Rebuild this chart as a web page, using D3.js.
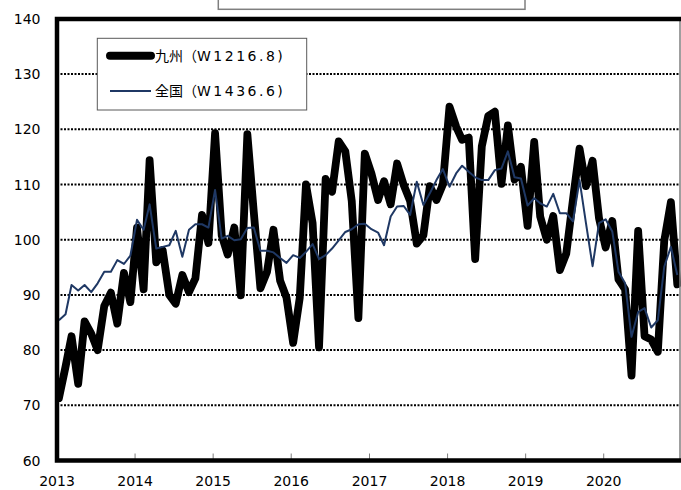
<!DOCTYPE html>
<html><head><meta charset="utf-8">
<script src="https://cdn.jsdelivr.net/npm/d3@7"></script>
<style>html,body{margin:0;padding:0;background:#fff;}svg{display:block;}</style>
</head><body>
<svg id="c" width="681" height="490"></svg>
<script>
const startYear = 2013;
const yearLabels = ["2013","2014","2015","2016","2017","2018","2019","2020"];
const yTicks = [60,70,80,90,100,110,120,130,140];
const seriesNames = ["九州（", "全国（"];
const seriesWeights = ["W1216.8)", "W1436.6)"];
const kyushu = [
 71.3,77.0,82.5,73.9,85.2,83.0,80.0,88.0,90.4,84.8,94.0,88.7,
 102.2,91.0,114.4,95.9,98.1,90.0,88.4,93.6,90.5,93.0,104.5,99.4,
 119.3,100.8,97.3,102.2,89.9,119.1,105.0,91.2,94.2,101.8,92.6,89.5,
 81.3,89.5,110.0,103.0,80.5,111.0,108.7,117.8,116.0,107.0,85.8,115.6,
 112.0,107.2,110.6,106.4,113.8,109.9,107.0,99.3,100.8,109.7,107.2,110.0,
 124.1,120.5,118.1,118.5,96.5,116.9,122.4,123.2,110.1,120.7,110.9,113.2,
 102.5,117.7,104.2,100.0,104.3,94.5,97.5,107.2,116.5,109.7,114.3,103.9,
 98.6,103.4,92.8,91.0,75.4,101.6,82.5,81.9,79.7,99.8,106.8,91.9
];
const zenkoku = [
 85.4,86.5,91.8,90.8,91.8,90.5,92.1,94.2,94.2,96.3,95.6,97.1,
 103.6,101.8,106.4,98.4,98.7,99.0,101.6,96.9,101.8,102.8,102.8,102.2,
 109.0,100.2,100.7,99.9,100.1,102.1,102.2,98.0,98.0,97.7,96.7,95.8,
 97.2,96.7,97.8,99.2,96.5,97.2,98.4,99.9,101.4,101.9,102.8,102.9,
 101.9,101.3,99.0,104.2,106.0,106.1,104.5,110.5,106.3,108.4,110.8,112.8,
 109.6,112.0,113.4,112.3,111.3,110.8,110.8,112.6,112.9,116.0,111.3,111.1,
 106.2,107.5,106.6,106.0,108.3,104.8,104.8,103.3,110.8,103.0,95.2,103.0,
 103.7,101.5,94.2,92.1,82.4,86.9,87.6,84.1,85.4,95.1,98.7,93.6
];

const svg = d3.select("#c");
const font = "'DejaVu Sans','Noto Sans CJK JP',sans-serif";
const L = 57, R = 680, T = 18.9, B = 460.5;

const x = d3.scaleTime()
  .domain([new Date(startYear,0,1), new Date(startYear+8,0,1)])
  .range([L, 682]);
const y = d3.scaleLinear().domain([60,140]).range([B, T]);
const dateOf = i => new Date(startYear, i, 10);

svg.append("rect").attr("width",681).attr("height",490).attr("fill","#fff");

// title box (cut off at top)
svg.append("rect").attr("x",218.3).attr("y",-10).attr("width",306.7).attr("height",19.3)
  .attr("fill","#fff").attr("stroke","#7f7f7f").attr("stroke-width",1.5);

// gridlines
svg.append("g").selectAll("line").data(yTicks.filter(v=>v>60 && v<140)).join("line")
  .attr("x1",L).attr("x2",R).attr("y1",d=>y(d)).attr("y2",d=>y(d))
  .attr("stroke","#000").attr("stroke-width",2).attr("stroke-dasharray","2,1.5");

// y labels
svg.append("g").selectAll("text").data(yTicks).join("text")
  .attr("x",40.5).attr("y",d=>y(d)).attr("dy","0.36em")
  .attr("text-anchor","end").attr("font-family",font).attr("font-size",14)
  .attr("fill","#000").text(d=>d);

// x ticks and labels
const yearDates = yearLabels.map(s=>new Date(+s,0,1));
svg.append("g").selectAll("line").data(yearDates.slice(1)).join("line")
  .attr("x1",d=>x(d)).attr("x2",d=>x(d)).attr("y1",B).attr("y2",B-7)
  .attr("stroke","#7f7f7f").attr("stroke-width",1);
svg.append("g").selectAll("text").data(yearLabels).join("text")
  .attr("x",(d,i)=>x(yearDates[i])).attr("y",486)
  .attr("text-anchor","middle").attr("font-family",font).attr("font-size",14)
  .attr("fill","#000").text(d=>d);

const line = d3.line().x((d,i)=>x(dateOf(i))).y(d=>y(d));
svg.append("path").datum(kyushu).attr("d",line).attr("fill","none")
  .attr("stroke","#000").attr("stroke-width",7.8)
  .attr("stroke-linejoin","round").attr("stroke-linecap","round");
svg.append("path").datum(zenkoku).attr("d",line).attr("fill","none")
  .attr("stroke","#1F3864").attr("stroke-width",2)
  .attr("stroke-linejoin","round");

// frame
svg.append("line").attr("x1",R).attr("x2",R).attr("y1",T).attr("y2",B)
  .attr("stroke","#7f7f7f").attr("stroke-width",1.5);
svg.append("path").attr("d",`M${R+2},${T}H${L}V${B}H${R+2}`)
  .attr("fill","none").attr("stroke","#000").attr("stroke-width",4.5);

// legend
const lg = svg.append("g");
lg.append("rect").attr("x",97.3).attr("y",38.3).attr("width",209.4).attr("height",71.7)
  .attr("fill","#fff").attr("stroke","#595959").attr("stroke-width",1);
const legY = [55.7, 91];
const legStyles = [{c:"#000",w:8},{c:"#1F3864",w:2}];
seriesNames.forEach((n,i)=>{
  lg.append("line").attr("x1",110).attr("x2",151).attr("y1",legY[i]).attr("y2",legY[i])
    .attr("stroke",legStyles[i].c).attr("stroke-width",legStyles[i].w)
    .attr("stroke-linecap", i===0?"round":"butt");
  const t = lg.append("text").attr("x",155).attr("y",legY[i]).attr("dy","0.36em")
    .attr("font-family",font).attr("font-size",14).attr("fill","#000");
  t.append("tspan").text(n);
  t.append("tspan").attr("x",197).attr("letter-spacing",2.5).text(seriesWeights[i]);
});
</script>
</body></html>
